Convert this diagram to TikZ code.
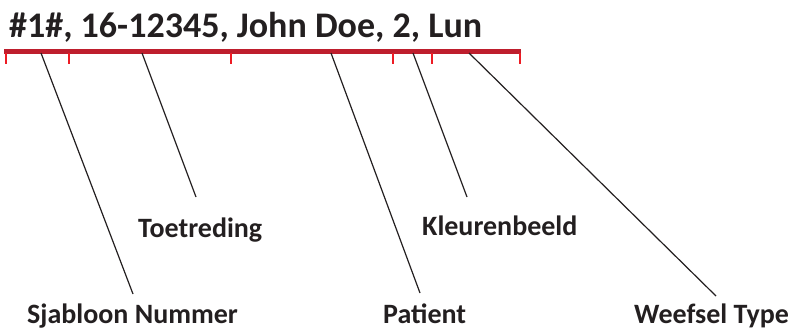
\documentclass[tikz,border=0pt]{standalone}
\usepackage{fontspec}
\setmainfont{Carlito}
\definecolor{barred}{HTML}{BE1E2D}
\definecolor{tickred}{HTML}{ED1C24}
\definecolor{inkgrey}{HTML}{231F20}
\tikzset{
  field/.style={anchor=base west, inner sep=0pt, text=inkgrey,
    font=\bfseries\fontsize{28}{30}\selectfont},
  record/.style={field, font=\bfseries\fontsize{36}{40}\selectfont},
  ruler/.style={line width=4.5pt, barred},
  ruletick/.style={line width=2pt, tickred},
  pointer/.style={line width=1.2pt, inkgrey},
}
\begin{document}
\begin{tikzpicture}[x=1pt,y=-1pt]
  \useasboundingbox (0,0) rectangle (793,330);
  % record line and ruler
  \node[record] (code) at (9,37) {\#1\#, 16-12345, John Doe, 2, Lun};
  \coordinate (rulestart) at (4,51.5);
  \coordinate (ruleend) at (521,51.5);
  \draw[ruler] (rulestart) -- (ruleend);
  \foreach \x in {6,69,231,393,432,520}
    \draw[ruletick] (\x,53) -- (\x,64);
  % field names
  \node[field] (sjabloon) at (27,323) {Sjabloon Nummer};
  \node[field] (toetreding) at (138,237) {Toetreding};
  \node[field] (patient) at (383,323) {Patient};
  \node[field] (kleuren) at (422,235) {Kleurenbeeld};
  \node[field] (weefsel) at (634,323) {Weefsel Type};
  % pointers
  \coordinate (sjabloontop) at (41,53);
  \coordinate (sjabloonend) at (133,294);
  \coordinate (toetredingtop) at (142,53);
  \coordinate (toetredingend) at (196,197);
  \coordinate (patienttop) at (331,53);
  \coordinate (patientend) at (420,293);
  \coordinate (kleurentop) at (413,53);
  \coordinate (kleurenend) at (467,197);
  \coordinate (weefseltop) at (469,53);
  \coordinate (weefselend) at (716,296);
  \draw[pointer] (sjabloontop) -- (sjabloonend);
  \draw[pointer] (toetredingtop) -- (toetredingend);
  \draw[pointer] (patienttop) -- (patientend);
  \draw[pointer] (kleurentop) -- (kleurenend);
  \draw[pointer] (weefseltop) -- (weefselend);
\end{tikzpicture}
\end{document}
